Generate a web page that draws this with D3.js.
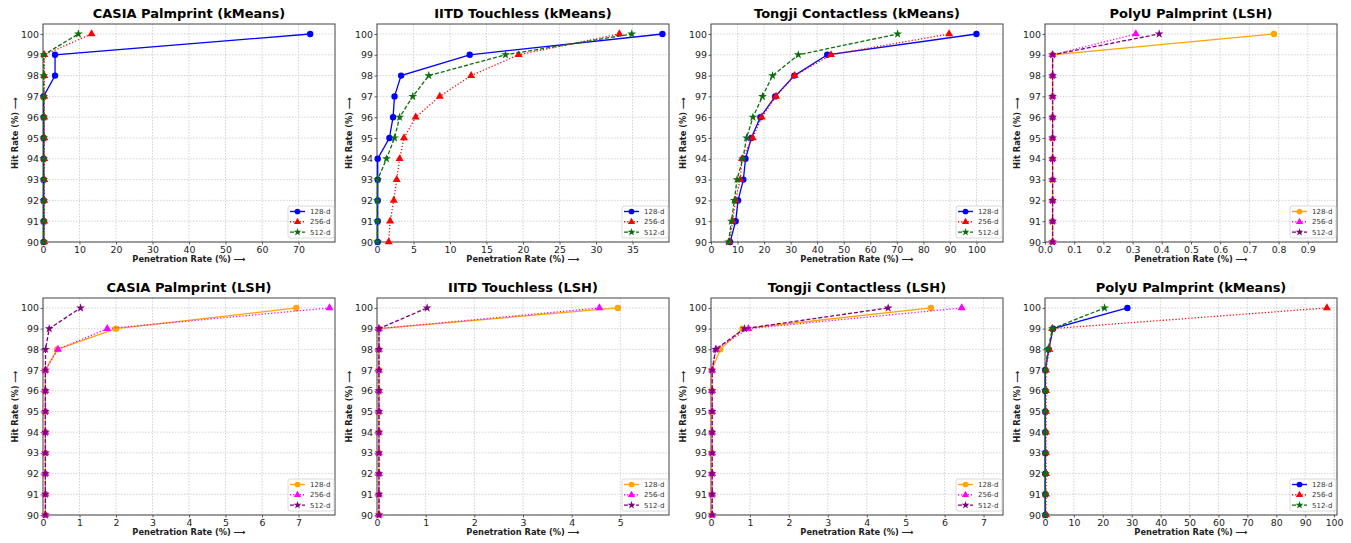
<!DOCTYPE html>
<html>
<head>
<meta charset="utf-8">
<script src="https://cdn.jsdelivr.net/npm/d3@7"></script>
<style>
  body { margin: 0; background: #fff; }
  svg { display: block; font-family: "DejaVu Sans", sans-serif; }
</style>
</head>
<body>
<script>
const hitRate = [90, 91, 92, 93, 94, 95, 96, 97, 98, 99, 100];
const dims = ["128-d", "256-d", "512-d"];

// CASIA Palmprint (kMeans)
const casiaKm128 = [0.2, 0.2, 0.2, 0.2, 0.2, 0.2, 0.2, 0.15, 3.3, 3.3, 73.2];
const casiaKm256 = [0.35, 0.35, 0.35, 0.35, 0.35, 0.35, 0.35, 0.35, 0.35, 0.35, 13.3];
const casiaKm512 = [0.2, 0.2, 0.2, 0.2, 0.2, 0.2, 0.2, 0.2, 0.2, 0.2, 9.7];
// IITD Touchless (kMeans)
const iitdKm128 = [0.1, 0.1, 0.1, 0.1, 0.1, 1.7, 2.2, 2.4, 3.3, 12.7, 39.1];
const iitdKm256 = [1.6, 1.8, 2.3, 2.7, 3.1, 3.7, 5.3, 8.6, 12.9, 19.4, 33.2];
const iitdKm512 = [0.05, 0.05, 0.05, 0.1, 1.3, 2.4, 3.1, 4.9, 7.1, 17.6, 34.9];
// Tongji Contactless (kMeans)
const tongjiKm128 = [7.2, 9.3, 10.2, 12.2, 13.0, 15.2, 18.6, 24.2, 31.4, 43.8, 100];
const tongjiKm256 = [6.9, 8.2, 9.2, 11.0, 11.7, 15.7, 19.1, 24.5, 31.5, 45.2, 89.7];
const tongjiKm512 = [6.6, 7.7, 8.8, 9.8, 12.0, 13.4, 15.8, 19.4, 23.2, 32.9, 70.3];
// PolyU Palmprint (LSH)
const polyuLsh128 = [0.026, 0.026, 0.026, 0.026, 0.026, 0.026, 0.026, 0.026, 0.026, 0.026, 0.784];
const polyuLsh256 = [0.026, 0.026, 0.026, 0.026, 0.026, 0.026, 0.026, 0.026, 0.026, 0.026, 0.311];
const polyuLsh512 = [0.026, 0.026, 0.026, 0.026, 0.026, 0.026, 0.026, 0.026, 0.026, 0.026, 0.391];
// CASIA Palmprint (LSH)
const casiaLsh128 = [0.065, 0.065, 0.065, 0.065, 0.065, 0.065, 0.065, 0.065, 0.39, 2.0, 6.94];
const casiaLsh256 = [0.065, 0.065, 0.065, 0.065, 0.065, 0.065, 0.065, 0.065, 0.41, 1.76, 7.85];
const casiaLsh512 = [0.065, 0.065, 0.065, 0.065, 0.065, 0.065, 0.065, 0.065, 0.07, 0.17, 1.03];
// IITD Touchless (LSH)
const iitdLsh128 = [0.04, 0.04, 0.04, 0.04, 0.04, 0.04, 0.04, 0.04, 0.04, 0.04, 4.95];
const iitdLsh256 = [0.04, 0.04, 0.04, 0.04, 0.04, 0.04, 0.04, 0.04, 0.04, 0.04, 4.57];
const iitdLsh512 = [0.04, 0.04, 0.04, 0.04, 0.04, 0.04, 0.04, 0.04, 0.04, 0.04, 1.03];
// Tongji Contactless (LSH)
const tongjiLsh128 = [0.02, 0.02, 0.02, 0.02, 0.02, 0.02, 0.02, 0.02, 0.24, 0.81, 5.65];
const tongjiLsh256 = [0.03, 0.03, 0.03, 0.03, 0.03, 0.03, 0.03, 0.03, 0.13, 0.96, 6.44];
const tongjiLsh512 = [0.03, 0.03, 0.03, 0.03, 0.03, 0.03, 0.03, 0.03, 0.12, 0.86, 4.55];
// PolyU Palmprint (kMeans)
const polyuKm128 = [0.1, 0.1, 0.1, 0.1, 0.1, 0.1, 0.1, 0.1, 1.3, 2.8, 28.5];
const polyuKm256 = [0.35, 0.35, 0.35, 0.35, 0.35, 0.35, 0.35, 0.35, 1.5, 2.5, 97.5];
const polyuKm512 = [0.15, 0.15, 0.15, 0.15, 0.15, 0.15, 0.15, 0.15, 1.0, 2.6, 20.6];

const titles = [
  "CASIA Palmprint (kMeans)", "IITD Touchless (kMeans)", "Tongji Contactless (kMeans)", "PolyU Palmprint (LSH)",
  "CASIA Palmprint (LSH)", "IITD Touchless (LSH)", "Tongji Contactless (LSH)", "PolyU Palmprint (kMeans)"
];
const xMax = [80, 40, 110, 1.0, 8, 6, 7.5, 101];
const xTicks = [
  [0, 10, 20, 30, 40, 50, 60, 70],
  [0, 5, 10, 15, 20, 25, 30, 35],
  [0, 10, 20, 30, 40, 50, 60, 70, 80, 90, 100],
  [0, 0.1, 0.2, 0.3, 0.4, 0.5, 0.6, 0.7, 0.8, 0.9],
  [0, 1, 2, 3, 4, 5, 6, 7],
  [0, 1, 2, 3, 4, 5],
  [0, 1, 2, 3, 4, 5, 6, 7],
  [0, 10, 20, 30, 40, 50, 60, 70, 80, 90, 100]
];
const yTicks = [90, 91, 92, 93, 94, 95, 96, 97, 98, 99, 100];
const seriesData = [
  [casiaKm128, casiaKm256, casiaKm512],
  [iitdKm128, iitdKm256, iitdKm512],
  [tongjiKm128, tongjiKm256, tongjiKm512],
  [polyuLsh128, polyuLsh256, polyuLsh512],
  [casiaLsh128, casiaLsh256, casiaLsh512],
  [iitdLsh128, iitdLsh256, iitdLsh512],
  [tongjiLsh128, tongjiLsh256, tongjiLsh512],
  [polyuKm128, polyuKm256, polyuKm512]
];
const isLsh = [false, false, false, true, true, true, true, false];

const kmColors = ["#0000ff", "#ff0000", "#0a6e0a"];
const lshColors = ["#ffa500", "#ff00ff", "#800080"];
const dashes = [null, "1.2,2", "4,2"];
const symbols = [d3.symbolCircle, d3.symbolTriangle, d3.symbolStar];
const symSizes = [32, 28, 24];

const width = 1351;
const height = 543;
const lefts = [43, 377, 711, 1045];
const plotW = 292;
const rows = [{ top: 24, bottom: 242 }, { top: 298, bottom: 515 }];

const svg = d3.select("body").append("svg")
  .attr("width", width)
  .attr("height", height);

titles.forEach((title, i) => {
  const col = i % 4;
  const row = rows[Math.floor(i / 4)];
  const x0 = lefts[col];
  const x1 = x0 + plotW;

  const xScale = d3.scaleLinear().domain([0, xMax[i]]).range([x0, x1]);
  const yScale = d3.scaleLinear().domain([90, 100.48]).range([row.bottom, row.top]);
  const colors = isLsh[i] ? lshColors : kmColors;

  const g = svg.append("g");

  // grid
  g.append("g")
    .selectAll("line")
    .data(xTicks[i])
    .enter()
    .append("line")
    .attr("x1", (d) => xScale(d)).attr("x2", (d) => xScale(d))
    .attr("y1", row.top).attr("y2", row.bottom)
    .attr("stroke", "#c8c8c8").attr("stroke-width", 0.8)
    .attr("stroke-dasharray", "1.5,1.5");
  g.append("g")
    .selectAll("line")
    .data(yTicks)
    .enter()
    .append("line")
    .attr("x1", x0).attr("x2", x1)
    .attr("y1", (d) => yScale(d)).attr("y2", (d) => yScale(d))
    .attr("stroke", "#c8c8c8").attr("stroke-width", 0.8)
    .attr("stroke-dasharray", "1.5,1.5");

  // axes
  const fmt = xMax[i] <= 1 ? d3.format(".1f") : d3.format("d");
  const xAxis = g.append("g")
    .attr("transform", `translate(0, ${row.bottom})`)
    .call(d3.axisBottom(xScale).tickValues(xTicks[i]).tickFormat(fmt).tickSize(2.5).tickPadding(2));
  const yAxis = g.append("g")
    .attr("transform", `translate(${x0}, 0)`)
    .call(d3.axisLeft(yScale).tickValues(yTicks).tickFormat(d3.format("d")).tickSize(2.5).tickPadding(1.5));
  [xAxis, yAxis].forEach((a) => {
    a.select(".domain").remove();
    a.selectAll(".tick line").attr("stroke", "#333").attr("stroke-width", 0.8);
    a.selectAll(".tick text")
      .attr("fill", "#222")
      .style("font-family", "DejaVu Sans")
      .style("font-size", "9.4px");
  });

  // frame
  g.append("rect")
    .attr("x", x0).attr("y", row.top)
    .attr("width", plotW).attr("height", row.bottom - row.top)
    .attr("fill", "none").attr("stroke", "#444").attr("stroke-width", 1);

  // series
  seriesData[i].forEach((vals, s) => {
    const pts = vals.map((v, k) => [v, hitRate[k]]);
    const line = d3.line().x((d) => xScale(d[0])).y((d) => yScale(d[1]));
    g.append("path")
      .datum(pts)
      .attr("d", line)
      .attr("fill", "none")
      .attr("stroke", colors[s])
      .attr("stroke-width", 1.3)
      .attr("stroke-dasharray", dashes[s]);
    g.append("g")
      .selectAll("path")
      .data(pts)
      .enter()
      .append("path")
      .attr("d", d3.symbol().type(symbols[s]).size(symSizes[s]))
      .attr("transform", (d) => `translate(${xScale(d[0])}, ${yScale(d[1])})`)
      .attr("fill", colors[s]);
  });

  // title and labels
  g.append("text")
    .attr("x", (x0 + x1) / 2).attr("y", row.top - 6)
    .attr("text-anchor", "middle")
    .attr("font-weight", "bold").attr("font-size", "13px")
    .text(title);
  g.append("text")
    .attr("x", (x0 + x1) / 2).attr("y", row.bottom + 20)
    .attr("text-anchor", "middle")
    .attr("font-weight", "bold").attr("font-size", "8.3px")
    .attr("fill", "#222")
    .text("Penetration Rate (%) \u27F6");
  g.append("text")
    .attr("transform", `translate(${x0 - 25}, ${(row.top + row.bottom) / 2}) rotate(-90)`)
    .attr("text-anchor", "middle")
    .attr("font-weight", "bold").attr("font-size", "8.3px")
    .attr("fill", "#222")
    .text("Hit Rate (%) \u27F6");

  // legend
  const lw = 46, lh = 32;
  const lx = x1 - 1 - lw, ly = row.bottom - 4 - lh;
  const leg = g.append("g").attr("transform", `translate(${lx}, ${ly})`);
  leg.append("rect")
    .attr("width", lw).attr("height", lh).attr("rx", 2)
    .attr("fill", "#fff").attr("fill-opacity", 0.85)
    .attr("stroke", "#d0d0d0").attr("stroke-width", 0.8);
  dims.forEach((name, s) => {
    const cy = 5.5 + s * 10.3;
    leg.append("line")
      .attr("x1", 2).attr("x2", 17).attr("y1", cy).attr("y2", cy)
      .attr("stroke", colors[s]).attr("stroke-width", 1.4)
      .attr("stroke-dasharray", dashes[s]);
    leg.append("path")
      .attr("d", d3.symbol().type(symbols[s]).size(symSizes[s] * 0.8))
      .attr("transform", `translate(9.5, ${cy})`)
      .attr("fill", colors[s]);
    leg.append("text")
      .attr("x", 22).attr("y", cy + 2.4)
      .attr("font-size", "7px").attr("fill", "#333")
      .text(name);
  });
});
</script>
</body>
</html>
